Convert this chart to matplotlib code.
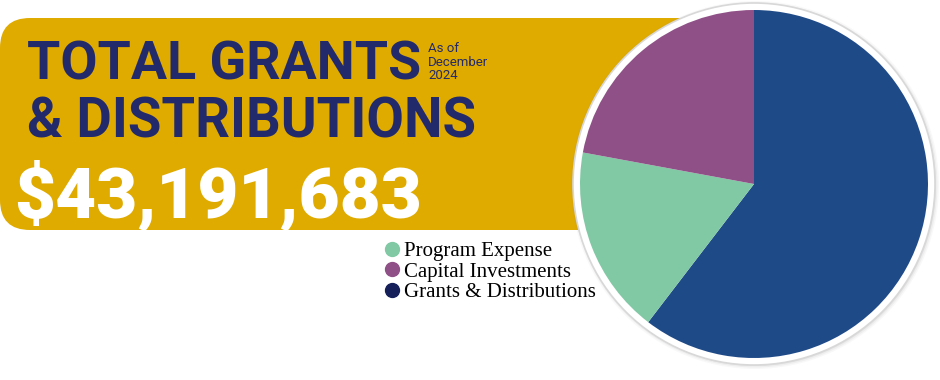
import matplotlib.pyplot as plt
from matplotlib.patches import FancyBboxPatch, Circle
from matplotlib.lines import Line2D

# slice values in percent (drawn clockwise from 12 o'clock)
labels = ['Grants & Distributions', 'Program Expense', 'Capital Investments']
shares = [60.4, 17.5, 22.1]
pie_colors = ['#1F4A88', '#80C9A4', '#8F5087']

# legend order and dot colours as shown in the picture
legend_labels = ['Program Expense', 'Capital Investments', 'Grants & Distributions']
legend_colors = ['#80C9A4', '#8F5087', '#15205A']

title_lines = ['TOTAL GRANTS', '& DISTRIBUTIONS']
date_lines = ['As of', 'December', '2024']
total_text = '$43,191,683'

GOLD = '#DFAB00'
NAVY = '#232A6B'
W, H = 940, 380


def main():
    fig = plt.figure(figsize=(9.4, 3.8), dpi=100)
    ax = fig.add_axes([0, 0, 1, 1])
    ax.set_xlim(0, W)
    ax.set_ylim(0, H)
    ax.set_aspect('equal')
    ax.axis('off')
    drawBanner(fig, ax)
    drawPie(ax)
    drawLegend(ax)
    fig.savefig('out.png', dpi=100)


#shrinks or grows a text so it spans the given width in pixels
def fitWidth(fig, t, width):
    r = fig.canvas.get_renderer()
    w = t.get_window_extent(r).width
    t.set_fontsize(t.get_fontsize() * width / w)


#gold rounded banner with the headline texts, y given from the top in pixels
def drawBanner(fig, ax):
    top, bottom = 18, 230
    box = FancyBboxPatch((0, H - bottom), 780, bottom - top,
                         boxstyle='round,pad=0,rounding_size=30',
                         facecolor=GOLD, edgecolor='none', zorder=1)
    ax.add_patch(box)
    t1 = ax.text(27, H - 80, title_lines[0], color=NAVY, fontsize=45,
                 fontweight='bold', family='Roboto', va='baseline', zorder=2)
    fitWidth(fig, t1, 394)
    t2 = ax.text(27, H - 137, title_lines[1], color=NAVY, fontsize=44,
                 fontweight='bold', family='Roboto', va='baseline', zorder=2)
    fitWidth(fig, t2, 450)
    for i, line in enumerate(date_lines):
        ax.text(428, H - 52 - i * 13.5, line, color=NAVY, fontsize=9.5,
                family='Roboto', va='baseline', zorder=2)
    t3 = ax.text(14, H - 218, total_text, color='white', fontsize=62,
                 fontweight='heavy', family='Roboto', va='baseline', zorder=2)
    fitWidth(fig, t3, 408)


#pie with a white ring and soft grey shadow round it
def drawPie(ax):
    cx, cy, r = 754, H - 184, 174
    for k, a in enumerate([0.05, 0.08, 0.12]):
        ax.add_patch(Circle((cx + 1, cy - 1), r + 10 - k * 1.5, facecolor='grey',
                            alpha=a, edgecolor='none', zorder=3))
    ax.add_patch(Circle((cx, cy), r + 7, facecolor='white',
                        edgecolor='#d8d8d8', linewidth=1.2, zorder=4))
    wedges, _ = ax.pie(shares, colors=pie_colors, startangle=90,
                       counterclock=False, center=(cx, cy), radius=r,
                       frame=True)
    for w in wedges:
        w.set_zorder(5)
    ax.set_xlim(0, W)
    ax.set_ylim(0, H)
    ax.axis('off')


def drawLegend(ax):
    handles = [Line2D([], [], marker='o', linestyle='none', markersize=10,
                      markerfacecolor=c, markeredgecolor=c)
               for c in legend_colors]
    ax.legend(handles, legend_labels, loc='upper left',
              bbox_to_anchor=(370 / W, 1 - 231 / H), frameon=False,
              prop={'family': 'Liberation Serif', 'size': 15},
              handletextpad=0.05, labelspacing=0.05, borderpad=0,
              handlelength=1.1)


main()
